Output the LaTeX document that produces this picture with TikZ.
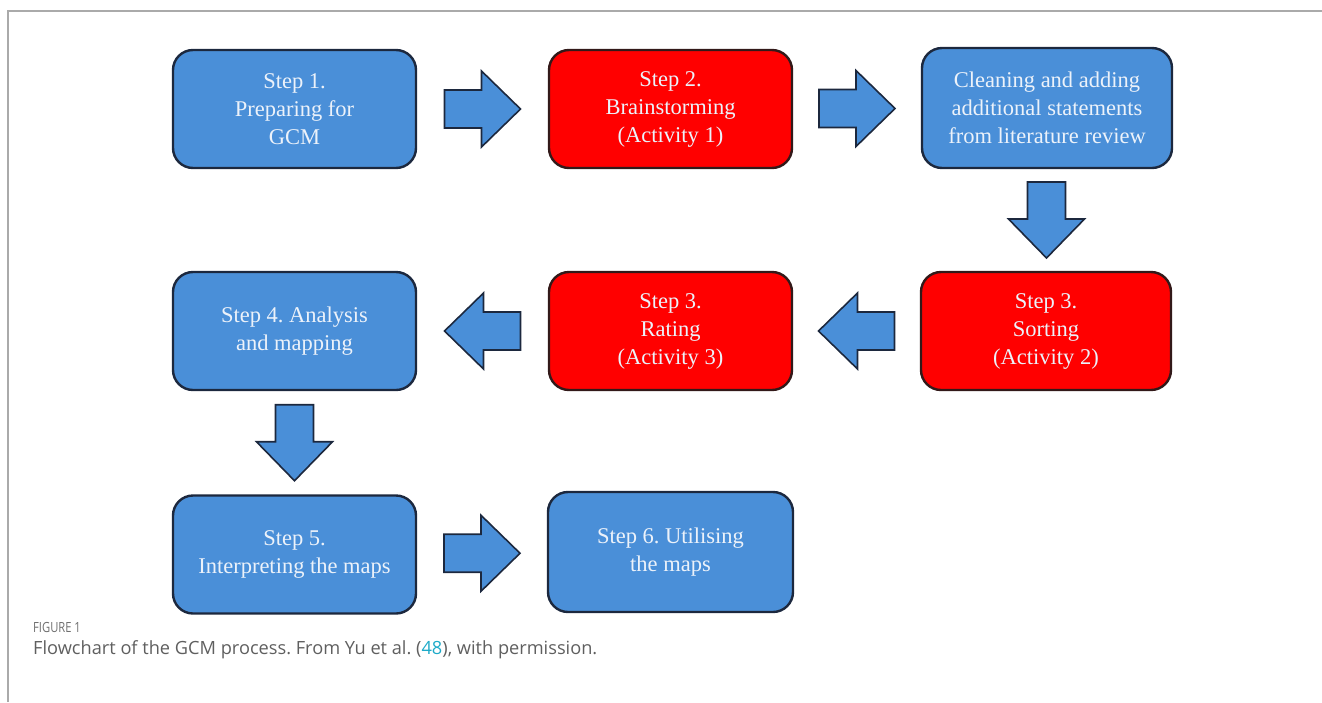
\documentclass[tikz,border=0pt]{standalone}
\usepackage{fontspec}
\setmainfont{Liberation Serif}
\newfontfamily\capfont{Open Sans}
\usetikzlibrary{calc}
\frenchspacing
\definecolor{boxblue}{RGB}{74,143,216}
\definecolor{boxred}{RGB}{255,0,0}
\definecolor{edgedark}{RGB}{28,40,62}
\definecolor{edgered}{RGB}{50,25,25}
\definecolor{txtlight}{RGB}{236,242,250}
\definecolor{framegray}{RGB}{170,170,170}
\definecolor{capgray}{RGB}{95,95,95}
\definecolor{linkcyan}{RGB}{30,170,200}
\tikzset{
  stepbox/.style={draw=edgedark, line width=2.4pt, rounded corners=20pt,
    minimum width=243pt, minimum height=118pt, align=center, text=txtlight,
    font=\fontsize{22.5}{28}\selectfont, inner sep=0pt},
  bluebox/.style={stepbox, fill=boxblue},
  redbox/.style={stepbox, fill=boxred, draw=edgered},
  blockarrow/.style={draw=edgedark, line width=1.6pt, fill=boxblue, line join=miter},
  framestyle/.style={draw=framegray, line width=1.2pt},
  captext/.style={anchor=base west, inner sep=0pt, text=capgray},
}
\newcommand\blockarr[2]{\draw[blockarrow, shift={(#1)}, rotate=#2]
  (-38,-19) -- (-1,-19) -- (-1,-38) -- (38,0) -- (-1,38) -- (-1,19) -- (-38,19) -- cycle;}
\begin{document}
\begin{tikzpicture}[x=1pt,y=-1pt]
\useasboundingbox (0,0) rectangle (1322,702);
\coordinate (frameTL) at (8,11);
\coordinate (frameTR) at (1322,11);
\coordinate (frameBL) at (8,702);
\draw[framestyle] (frameBL) -- (frameTL) -- (frameTR);

% row 1
\node[bluebox] (b1) at (294.5,109) {Step 1.\\Preparing for\\GCM};
\node[redbox] (b2) at (670.5,109) {Step 2.\\Brainstorming\\(Activity 1)};
\node[bluebox, minimum width=250pt, minimum height=120pt] (b3) at (1047,108)
  {Cleaning and adding\\additional statements\\from literature review};
% row 2
\node[bluebox] (b4) at (294.5,331) {Step 4. Analysis\\and mapping};
\node[redbox] (rate) at (670.5,331) {Step 3.\\Rating\\(Activity 3)};
\node[redbox, minimum width=250pt] (sort) at (1046,331) {Step 3.\\Sorting\\(Activity 2)};
% row 3
\node[bluebox] (b5) at (294.5,554.5) {Step 5.\\Interpreting the maps};
\node[bluebox, minimum width=245pt, minimum height=120pt] (b6) at (670.5,552) {Step 6. Utilising\\the maps};

% block arrows between named boxes
\coordinate (a12) at ($(b1.east)!0.5!(b2.west)$);
\coordinate (a23) at ($(b2.east)!0.5!(b3.west)$);
\coordinate (a3s) at ($(b3.south)!0.5!(sort.north)$);
\coordinate (asr) at ($(sort.west)!0.5!(rate.east)$);
\coordinate (ar4) at ($(rate.west)!0.5!(b4.east)$);
\coordinate (a45) at ($(b4.south)!0.5!(b5.north)$);
\coordinate (a56) at ($(b5.east)!0.5!(b6.west)$);
\blockarr{a12}{0}
\blockarr{a23}{0}
\blockarr{a3s}{-90}
\blockarr{asr}{180}
\blockarr{ar4}{180}
\blockarr{a45}{-90}
\blockarr{a56}{0}

% caption
\node[captext, font=\capfont\fontsize{14}{16}\selectfont, text=capgray!90] (figlabel) at (33,632)
  {\scalebox{0.8}[1]{FIGURE 1}};
\node[captext, font=\capfont\fontsize{18.2}{22}\selectfont] (caption) at (33,654)
  {Flowchart of the GCM process. From Yu et al. (\textcolor{linkcyan}{48}), with permission.};
\end{tikzpicture}
\end{document}
